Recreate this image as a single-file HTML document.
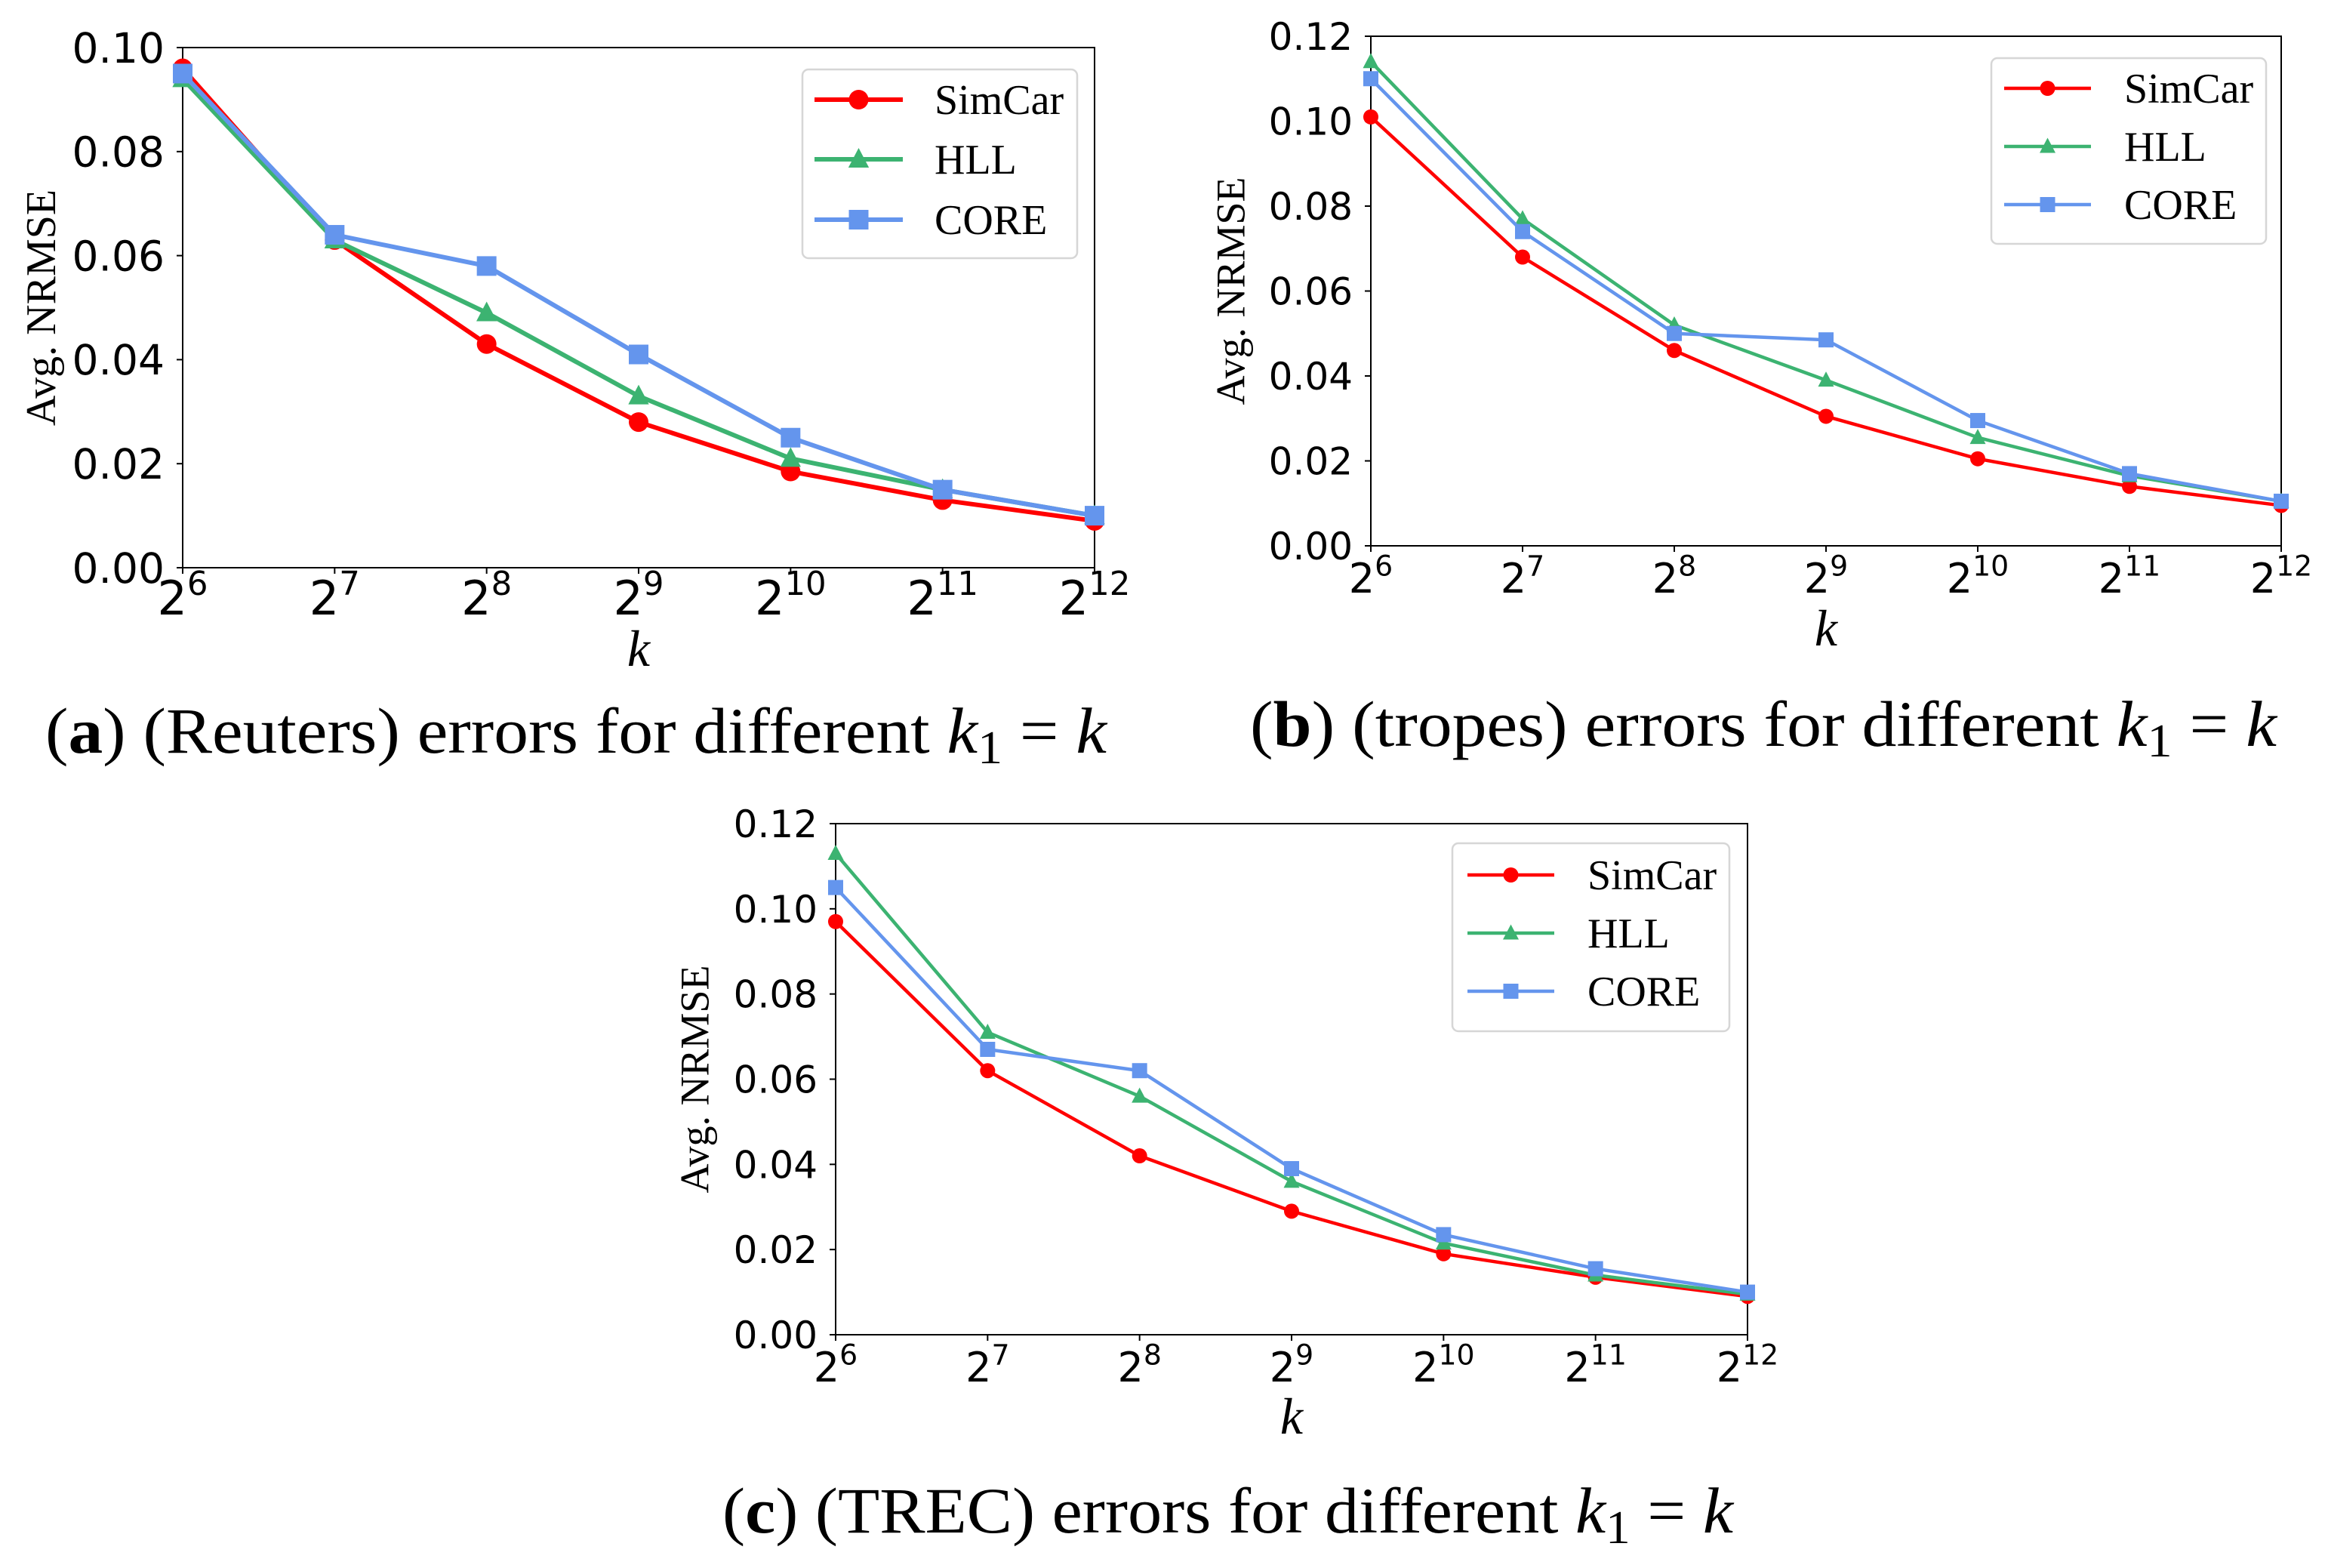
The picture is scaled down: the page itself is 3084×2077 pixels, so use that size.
<!DOCTYPE html>
<html><head><meta charset="utf-8"><style>
html,body{margin:0;padding:0;background:#fff;}
svg{display:block;}
.tk{font-family:"DejaVu Sans","Liberation Sans",sans-serif;}
.sf{font-family:"Liberation Serif",serif;}
</style></head><body>
<svg id="fig" width="3084" height="2077" viewBox="0 0 3084 2077" xmlns="http://www.w3.org/2000/svg"></svg>
<script>
const categories = [6, 7, 8, 9, 10, 11, 12];
const seriesNames = ["SimCar", "HLL", "CORE"];
const reutersSimCar = [0.096, 0.063, 0.043, 0.028, 0.0185, 0.013, 0.009];
const reutersHLL = [0.094, 0.063, 0.049, 0.033, 0.021, 0.015, 0.010];
const reutersCORE = [0.095, 0.064, 0.058, 0.041, 0.025, 0.015, 0.010];
const tropesSimCar = [0.101, 0.068, 0.046, 0.0305, 0.0205, 0.014, 0.0095];
const tropesHLL = [0.114, 0.077, 0.052, 0.039, 0.0255, 0.0165, 0.0105];
const tropesCORE = [0.110, 0.074, 0.050, 0.0485, 0.0295, 0.017, 0.0105];
const trecSimCar = [0.097, 0.062, 0.042, 0.029, 0.019, 0.0135, 0.009];
const trecHLL = [0.113, 0.071, 0.056, 0.036, 0.0215, 0.014, 0.0095];
const trecCORE = [0.105, 0.067, 0.062, 0.039, 0.0235, 0.0155, 0.010];
const yTicksA = [0, 0.02, 0.04, 0.06, 0.08, 0.10];
const yTicksBC = [0, 0.02, 0.04, 0.06, 0.08, 0.10, 0.12];

const NS = "http://www.w3.org/2000/svg";
const svg = document.getElementById("fig");
const colors = ["#ff0000", "#3cb371", "#6495ed"];
function mk(tag, attrs, parent){
  const e = document.createElementNS(NS, tag);
  for (const k in attrs) e.setAttribute(k, attrs[k]);
  (parent || svg).appendChild(e);
  return e;
}
function marker(g, kind, x, y, s, c){
  let e;
  if (kind === 0) e = mk("circle", {cx:x, cy:y, r:s, fill:c}, g);
  else if (kind === 1) e = mk("polygon", {points:`${x},${y-s*1.15} ${x-s*1.05},${y+s*0.85} ${x+s*1.05},${y+s*0.85}`, fill:c}, g);
  else e = mk("rect", {x:x-s, y:y-s, width:2*s, height:2*s, fill:c}, g);
  return e;
}

function chart(cfg){
  const g = mk("g", {});
  
  
  const {L, R, T, B, ymax} = cfg;
  const xS = i => L + (R - L) * (categories[i] - categories[0]) / (categories[categories.length-1] - categories[0]);
  const yS = v => B - (B - T) * v / ymax;
  const frame = mk("rect", {x:L, y:T, width:R-L, height:B-T, fill:"none", stroke:"#000", "stroke-width":2}, g);
  
  
  cfg.yticks.forEach(v => {
    const y = yS(v);
    mk("line", {x1:L-8, x2:L, y1:y, y2:y, stroke:"#000", "stroke-width":2}, g);
    const t = mk("text", {x:L-24, y:y + cfg.tf*0.36, "text-anchor":"end", "font-size":cfg.tf, class:"tk"}, g);
    t.textContent = v.toFixed(2);
    
    
  });
  categories.forEach((c, i) => {
    const x = xS(i);
    mk("line", {x1:x, x2:x, y1:B, y2:B+8, stroke:"#000", "stroke-width":2}, g);
    const t = mk("text", {x:x, y:B + cfg.xb, "text-anchor":"middle", "font-size":cfg.xf, class:"tk"}, g);
    const a = mk("tspan", {}, t); a.textContent = "2";
    const b = mk("tspan", {dy:-cfg.xf*0.42, "font-size":cfg.xf*0.7}, t); b.textContent = String(c);
    
    
  });
  const yl = mk("text", {x:cfg.ylx, y:(T+B)/2, "text-anchor":"middle", "font-size":cfg.ylf, class:"sf", transform:`rotate(-90 ${cfg.ylx} ${(T+B)/2})`, "dominant-baseline":"middle"}, g);
  yl.textContent = "Avg. NRMSE";
  
  
  const xl = mk("text", {x:(L+R)/2, y:cfg.xly, "text-anchor":"middle", "font-size":68, "font-style":"italic", class:"sf"}, g);
  xl.textContent = "k";
  
  
  cfg.series.forEach((arr, si) => {
    const sg = mk("g", {}, g);
    
    
    const pts = arr.map((v, i) => xS(i) + "," + yS(v)).join(" ");
    const pl = mk("polyline", {points:pts, fill:"none", stroke:colors[si], "stroke-width":cfg.lw, "stroke-linejoin":"round"}, sg);
    
    
    arr.forEach((v, i) => {
      const m = marker(sg, si, xS(i), yS(v), cfg.ms, colors[si]);
      
      
    });
  });
  const lg = mk("g", {}, g);
  
  
  const lb = cfg.leg;
  mk("rect", {x:lb.x, y:lb.y, width:lb.w, height:lb.h, rx:8, fill:"#fff", stroke:"#d6d6d6", "stroke-width":2.5}, lg);
  seriesNames.forEach((n, si) => {
    const ey = lb.rows[si];
    const eg = mk("g", {}, lg);
    
    
    mk("line", {x1:lb.lx1, x2:lb.lx2, y1:ey, y2:ey, stroke:colors[si], "stroke-width":cfg.lw}, eg);
    marker(eg, si, (lb.lx1+lb.lx2)/2, ey, cfg.ms, colors[si]);
    const t = mk("text", {x:lb.tx, y:ey + 19, "font-size":56, class:"sf"}, eg);
    t.textContent = n;
  });
  const cap = mk("text", {x:cfg.cx, y:cfg.cy, "font-size":86, class:"sf", textLength:cfg.cw, lengthAdjust:"spacingAndGlyphs"}, g);
  
  
  let s = mk("tspan", {}, cap); s.textContent = "(";
  s = mk("tspan", {"font-weight":"bold"}, cap); s.textContent = cfg.letter;
  s = mk("tspan", {}, cap); s.textContent = ") (" + cfg.ds + ") errors for different ";
  s = mk("tspan", {"font-style":"italic"}, cap); s.textContent = "k";
  s = mk("tspan", {dy:14, "font-size":62}, cap); s.textContent = "1";
  s = mk("tspan", {dy:-14}, cap); s.textContent = " = ";
  s = mk("tspan", {"font-style":"italic"}, cap); s.textContent = "k";
}

chart({name:"chart-reuters", L:242, R:1450, T:63, B:752, ymax:0.10, yticks:yTicksA, tf:55, xf:62, xb:62,
  ylx:60, ylf:56, xly:882, lw:6, ms:13,
  series:[reutersSimCar, reutersHLL, reutersCORE],
  leg:{x:1063, y:92, w:364, h:250, rows:[132, 211, 291], lx1:1079, lx2:1196, tx:1238},
  cx:60, cy:997, cw:1406, letter:"a", ds:"Reuters"});
chart({name:"chart-tropes", L:1816, R:3022, T:48, B:723, ymax:0.12, yticks:yTicksBC, tf:50, xf:54, xb:62,
  ylx:1636, ylf:54, xly:855, lw:4.5, ms:10,
  series:[tropesSimCar, tropesHLL, tropesCORE],
  leg:{x:2638, y:77, w:364, h:246, rows:[117, 194, 271], lx1:2655, lx2:2770, tx:2814},
  cx:1656, cy:988, cw:1360, letter:"b", ds:"tropes"});
chart({name:"chart-trec", L:1107, R:2315, T:1091, B:1768, ymax:0.12, yticks:yTicksBC, tf:50, xf:54, xb:62,
  ylx:926, ylf:54, xly:1899, lw:4.5, ms:10,
  series:[trecSimCar, trecHLL, trecCORE],
  leg:{x:1924, y:1117, w:367, h:249, rows:[1159, 1236, 1313], lx1:1944, lx2:2059, tx:2103},
  cx:957, cy:2030, cw:1339, letter:"c", ds:"TREC"});
</script>
</body></html>
